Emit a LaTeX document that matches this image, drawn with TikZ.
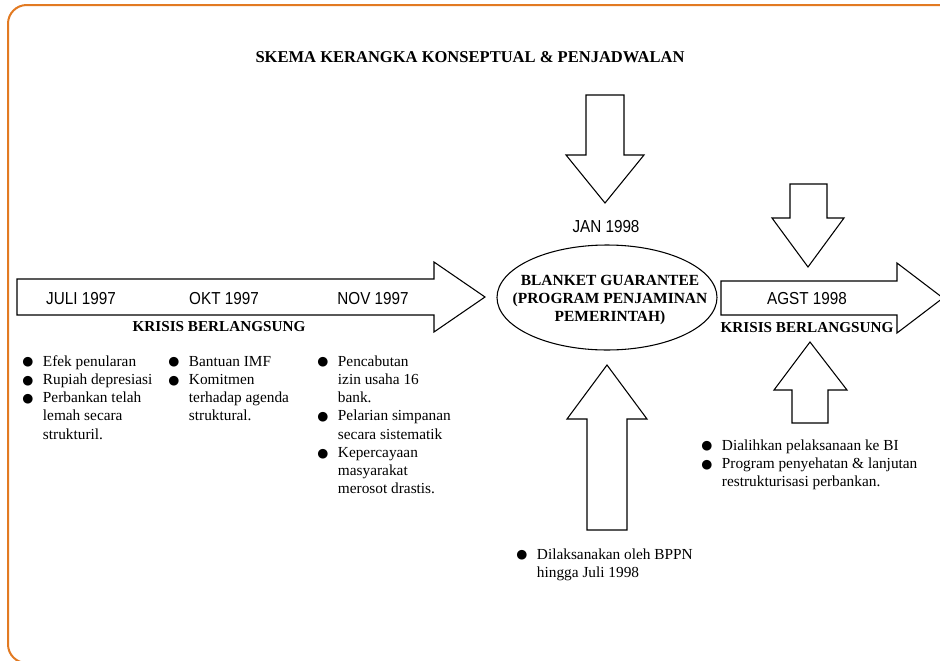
\documentclass[tikz,border=0pt]{standalone}
\usepackage{fontspec}
\setmainfont{Liberation Serif}
\newfontfamily\datef[FakeStretch=0.88]{Liberation Sans}
\newfontfamily\symf{DejaVu Sans}
\definecolor{frameorange}{RGB}{226,122,34}
\newcommand\bul{\makebox[15.5pt][l]{\symf\fontsize{9.5}{9.5}\selectfont\raisebox{0.2pt}{●}}}
\tikzset{
  blockarrow/.style={draw=black,line width=0.8pt,fill=white,line join=miter},
  datelabel/.style={font=\datef\fontsize{13}{13}\selectfont,inner sep=0pt},
  boldlabel/.style={font=\bfseries\fontsize{11.4}{11.4}\selectfont,inner sep=0pt},
  bulletlist/.style={font=\fontsize{11.5}{13.7}\selectfont,inner sep=0pt,anchor=base west},
}
\begin{document}
\begin{tikzpicture}[x=0.75pt,y=-0.75pt]
\useasboundingbox (0,0) rectangle (940,661);
% frame
\draw[frameorange,line width=1.5pt,rounded corners=14] (990,5) -- (8,5) -- (8,663) -- (990,663);
% title
\node[boldlabel,font=\bfseries\fontsize{12.4}{12.4}\selectfont] (title) at (470,57) {SKEMA KERANGKA KONSEPTUAL \& PENJADWALAN};
% main arrow
\draw[blockarrow] (17,279) -- (434,279) -- (434,262) -- (485,297) -- (434,332) -- (434,315) -- (17,315) -- cycle;
\node[datelabel] (juli) at (81,299) {JULI 1997};
\node[datelabel] (okt) at (224,299) {OKT 1997};
\node[datelabel] (nov) at (373,299) {NOV 1997};
\node[boldlabel] (krisis1) at (219,327) {KRISIS BERLANGSUNG};
% ellipse
\draw[line width=0.8pt] (607,297.5) ellipse [x radius=110, y radius=52.5];
\node[boldlabel,align=center,font=\bfseries\fontsize{11.6}{13.5}\selectfont] (blanket) at (610,300) {BLANKET GUARANTEE\\(PROGRAM PENJAMINAN\\PEMERINTAH)};
% JAN down arrow
\draw[blockarrow] (586,95) -- (624,95) -- (624,155) -- (644,155) -- (605,203) -- (566,155) -- (586,155) -- cycle;
\node[datelabel] (jan) at (606,227) {JAN 1998};
% big up arrow
\draw[blockarrow] (607,365) -- (647,419) -- (627,419) -- (627,530) -- (587,530) -- (587,419) -- (567,419) -- cycle;
% right arrow
\draw[blockarrow] (721,281) -- (897,281) -- (897,263) -- (943,298) -- (897,333) -- (897,315) -- (721,315) -- cycle;
\node[datelabel] (agst) at (807,299) {AGST 1998};
\node[boldlabel] (krisis2) at (807,328) {KRISIS BERLANGSUNG};
% small down arrow
\draw[blockarrow] (790,184) -- (827,184) -- (827,218) -- (844,218) -- (808,267) -- (772,218) -- (790,218) -- cycle;
% small up arrow
\draw[blockarrow] (810,342) -- (847,390) -- (828,390) -- (828,423) -- (792,423) -- (792,390) -- (774,390) -- cycle;
% bullet lists
\node[bulletlist] (list1) at (22,366) {\begin{tabular}[t]{@{}l@{}l@{}}
\bul & Efek penularan\\
\bul & Rupiah depresiasi\\
\bul & Perbankan telah\\
 & lemah secara\\
 & strukturil.
\end{tabular}};
\node[bulletlist] (list2) at (168,366) {\begin{tabular}[t]{@{}l@{}l@{}}
\bul & Bantuan IMF\\
\bul & Komitmen\\
 & terhadap agenda\\
 & struktural.
\end{tabular}};
\node[bulletlist] (list3) at (317,366) {\begin{tabular}[t]{@{}l@{}l@{}}
\bul & Pencabutan\\
 & izin usaha 16\\
 & bank.\\
\bul & Pelarian simpanan\\
 & secara sistematik\\
\bul & Kepercayaan\\
 & masyarakat\\
 & merosot drastis.
\end{tabular}};
\node[bulletlist] (list4) at (516,559) {\begin{tabular}[t]{@{}l@{}l@{}}
\bul & Dilaksanakan oleh BPPN\\
 & hingga Juli 1998
\end{tabular}};
\node[bulletlist] (list5) at (701,450) {\begin{tabular}[t]{@{}l@{}l@{}}
\bul & Dialihkan pelaksanaan ke BI\\
\bul & Program penyehatan \& lanjutan\\
 & restrukturisasi perbankan.
\end{tabular}};
\end{tikzpicture}
\end{document}
